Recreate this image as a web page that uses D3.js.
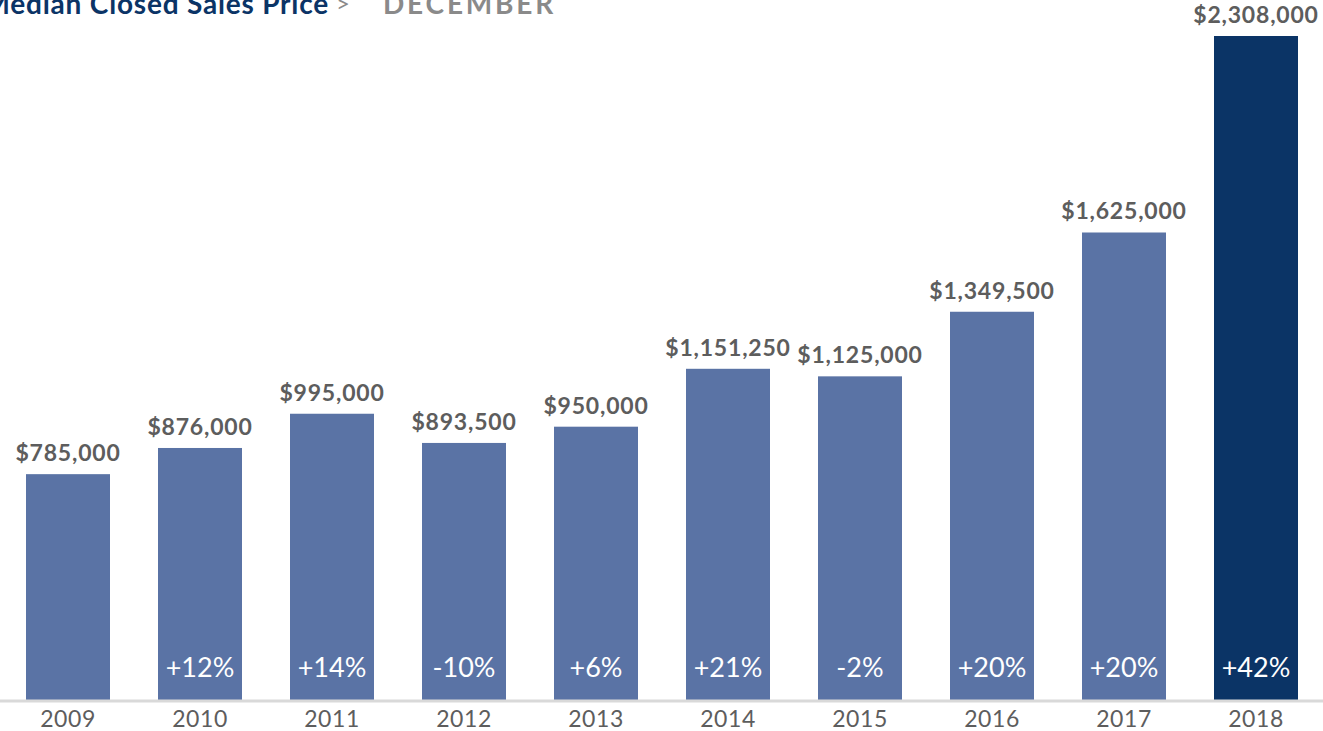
<!DOCTYPE html>
<head>
  <meta charset="utf-8">
  <title>Median Closed Sales Price - December</title>
  <script src="https://d3js.org/d3.v7.min.js"></script>
  <style>
    body { margin: 0; background: #fff; }
    svg { display: block; font-family: Lato, "Open Sans", sans-serif; }
  </style>
</head>
<body>
  <div id="chart"></div>
  <script>
    // data
    var years = ['2009', '2010', '2011', '2012', '2013', '2014', '2015', '2016', '2017', '2018'];
    var prices = [785000, 876000, 995000, 893500, 950000, 1151250, 1125000, 1349500, 1625000, 2308000];
    var changes = ['', '+12%', '+14%', '-10%', '+6%', '+21%', '-2%', '+20%', '+20%', '+42%'];

    var width = 1323, height = 731;
    var baseline = 700;

    var svg = d3.select('#chart').append('svg')
      .attr('width', width)
      .attr('height', height);

    var x = d3.scaleBand()
      .domain(years)
      .range([2, 1322])
      .paddingInner(48 / 132)
      .paddingOuter(24 / 132);

    var y = d3.scaleLinear()
      .domain([0, 2308000])
      .range([baseline, 36]);

    var fmt = d3.format('$,');

    // title, cut at the top edge like the original
    svg.append('text')
      .attr('x', 329)
      .attr('y', 14)
      .attr('text-anchor', 'end')
      .attr('font-size', 28)
      .attr('font-weight', 'bold')
      .attr('letter-spacing', 0.8)
      .attr('fill', '#0b3466')
      .text('Median Closed Sales Price');
    svg.append('text')
      .attr('x', 343)
      .attr('y', 12)
      .attr('text-anchor', 'middle')
      .attr('font-size', 24)
      .attr('fill', '#8a8a8a')
      .text('>');
    svg.append('text')
      .attr('x', 383)
      .attr('y', 14)
      .attr('font-size', 28)
      .attr('font-weight', 'bold')
      .attr('letter-spacing', 2.8)
      .attr('fill', '#8a8a8a')
      .text('DECEMBER');

    var data = years.map(function (d, i) {
      return { year: d, price: prices[i], change: changes[i] };
    });

    // bars
    svg.selectAll('rect.bar')
      .data(data)
      .enter().append('rect')
        .attr('class', 'bar')
        .attr('x', function (d) { return x(d.year); })
        .attr('y', function (d) { return y(d.price); })
        .attr('width', x.bandwidth())
        .attr('height', function (d) { return baseline - y(d.price); })
        .attr('fill', function (d, i) { return i === data.length - 1 ? '#0b3466' : '#5a73a5'; });

    // value labels
    svg.selectAll('text.val')
      .data(data)
      .enter().append('text')
        .attr('class', 'val')
        .attr('x', function (d) { return x(d.year) + x.bandwidth() / 2; })
        .attr('y', function (d) { return y(d.price) - 13; })
        .attr('text-anchor', 'middle')
        .attr('font-size', 23)
        .attr('font-weight', 'bold')
        .attr('letter-spacing', 0.8)
        .attr('fill', '#5d5d5d')
        .text(function (d) { return fmt(d.price); });

    // change labels inside bars
    svg.selectAll('text.chg')
      .data(data)
      .enter().append('text')
        .attr('class', 'chg')
        .attr('x', function (d) { return x(d.year) + x.bandwidth() / 2; })
        .attr('y', 677)
        .attr('text-anchor', 'middle')
        .attr('font-size', 27)
        .attr('fill', '#fff')
        .text(function (d) { return d.change; });

    // x axis
    var axis = svg.append('g')
      .attr('transform', 'translate(0,' + (baseline + 1) + ')')
      .call(d3.axisBottom(x).tickSize(0).tickPadding(10));
    axis.select('.domain')
      .attr('d', 'M0,0H' + width)
      .attr('stroke', '#d9d9d9')
      .attr('stroke-width', 3);
    axis.selectAll('text')
      .attr('font-family', 'Lato, "Open Sans", sans-serif')
      .attr('font-size', 23)
      .attr('letter-spacing', 0.6)
      .attr('fill', '#5d5d5d');
  </script>
</body>
